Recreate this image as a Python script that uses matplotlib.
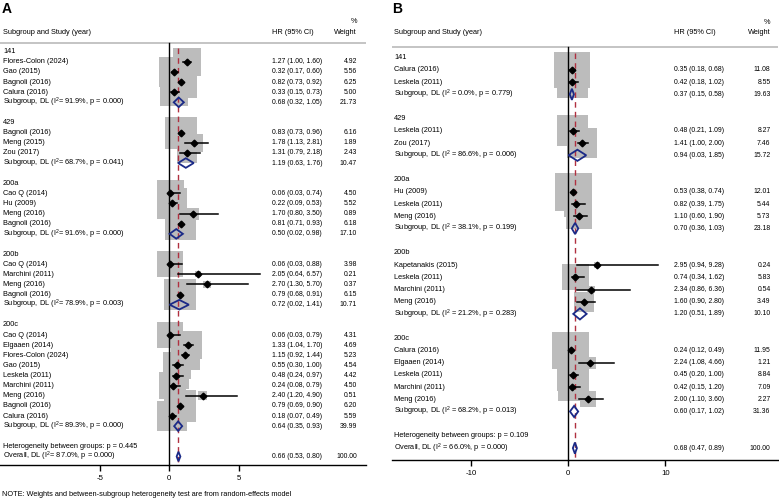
import numpy as np
import matplotlib
matplotlib.use("Agg")
import matplotlib.pyplot as plt
from matplotlib.patches import Rectangle, Polygon

plt.rcParams['font.family'] = ['Liberation Sans', 'DejaVu Sans']
plt.rcParams['mathtext.fontset'] = 'custom'
plt.rcParams['mathtext.rm'] = 'Liberation Sans'
plt.rcParams['mathtext.it'] = 'Liberation Sans:italic'
plt.rcParams['axes.unicode_minus'] = False

# ---------------- data: panel A ----------------
a_groups = ["141", "429", "200a", "200b", "200c"]
a_group = ["141"] * 4 + ["429"] * 3 + ["200a"] * 4 + ["200b"] * 4 + ["200c"] * 9
a_study = ["Flores-Colon (2024)", "Gao (2015)", "Bagnoli (2016)", "Calura (2016)",
           "Bagnoli (2016)", "Meng (2015)", "Zou (2017)",
           "Cao Q (2014)", "Hu (2009)", "Meng (2016)", "Bagnoli (2016)",
           "Cao Q (2014)", "Marchini (2011)", "Meng (2016)", "Bagnoli (2016)",
           "Cao Q (2014)", "Elgaaen (2014)", "Flores-Colon (2024)", "Gao (2015)",
           "Leskela (2011)", "Marchini (2011)", "Meng (2016)", "Bagnoli (2016)",
           "Calura (2016)"]
a_hr = [1.27, 0.32, 0.82, 0.33,
        0.83, 1.78, 1.31,
        0.06, 0.22, 1.70, 0.81,
        0.06, 2.05, 2.70, 0.79,
        0.06, 1.33, 1.15, 0.55, 0.48, 0.24, 2.40, 0.79, 0.18]
a_lo = [1.00, 0.17, 0.73, 0.15,
        0.73, 1.13, 0.79,
        0.03, 0.09, 0.80, 0.71,
        0.03, 0.64, 1.30, 0.68,
        0.03, 1.04, 0.92, 0.30, 0.24, 0.08, 1.20, 0.69, 0.07]
a_hi = [1.60, 0.60, 0.92, 0.73,
        0.96, 2.81, 2.18,
        0.74, 0.53, 3.50, 0.93,
        0.88, 6.57, 5.70, 0.91,
        0.79, 1.70, 1.44, 1.00, 0.97, 0.79, 4.90, 0.90, 0.49]
a_wt = [4.92, 5.56, 6.25, 5.00,
        6.16, 1.89, 2.43,
        4.50, 5.52, 0.89, 6.18,
        3.98, 0.21, 0.37, 6.15,
        4.31, 4.69, 5.23, 4.54, 4.42, 4.50, 0.51, 6.20, 5.59]
a_sub_i2 = [91.9, 68.7, 91.6, 78.9, 89.3]
a_sub_p = [0.000, 0.041, 0.000, 0.003, 0.000]
a_sub_hr = [0.68, 1.19, 0.50, 0.72, 0.64]
a_sub_lo = [0.32, 0.63, 0.02, 0.02, 0.35]
a_sub_hi = [1.05, 1.76, 0.98, 1.41, 0.93]
a_sub_wt = [21.73, 10.47, 17.10, 10.71, 39.99]
a_overall = [0.66, 0.53, 0.80]
a_overall_i2 = 87.0
a_overall_p = 0.000
a_het_p = 0.445
a_ticks = [-5, 0, 5]

# ---------------- data: panel B ----------------
b_groups = ["141", "429", "200a", "200b", "200c"]
b_group = ["141"] * 2 + ["429"] * 2 + ["200a"] * 3 + ["200b"] * 4 + ["200c"] * 5
b_study = ["Calura (2016)", "Leskela (2011)",
           "Leskela (2011)", "Zou (2017)",
           "Hu (2009)", "Leskela (2011)", "Meng (2016)",
           "Kapetanakis (2015)", "Leskela (2011)", "Marchini (2011)", "Meng (2016)",
           "Calura (2016)", "Elgaaen (2014)", "Leskela (2011)", "Marchini (2011)",
           "Meng (2016)"]
b_hr = [0.35, 0.42, 0.48, 1.41, 0.53, 0.82, 1.10,
        2.95, 0.74, 2.34, 1.60, 0.24, 2.24, 0.45, 0.42, 2.00]
b_lo = [0.18, 0.18, 0.21, 1.00, 0.38, 0.39, 0.60,
        0.94, 0.34, 0.86, 0.90, 0.12, 1.08, 0.20, 0.15, 1.10]
b_hi = [0.68, 1.02, 1.09, 2.00, 0.74, 1.75, 1.90,
        9.28, 1.62, 6.36, 2.80, 0.49, 4.66, 1.00, 1.20, 3.60]
b_wt = [11.08, 8.55, 8.27, 7.46, 12.01, 5.44, 5.73,
        0.24, 5.83, 0.54, 3.49, 11.95, 1.21, 8.84, 7.09, 2.27]
b_sub_i2 = [0.0, 86.6, 38.1, 21.2, 68.2]
b_sub_p = [0.779, 0.006, 0.199, 0.283, 0.013]
b_sub_hr = [0.37, 0.94, 0.70, 1.20, 0.60]
b_sub_lo = [0.15, 0.03, 0.36, 0.51, 0.17]
b_sub_hi = [0.58, 1.85, 1.03, 1.89, 1.02]
b_sub_wt = [19.63, 15.72, 23.18, 10.10, 31.36]
b_overall = [0.68, 0.47, 0.89]
b_overall_i2 = 66.0
b_overall_p = 0.000
b_het_p = 0.109
b_ticks = [-10, 0, 10]

W, H = 779, 499
BOX = '#bcbcbc'
NAVY = '#1b2a87'
RED = '#b03040'
FS = 5.3      # label text
FSN = 4.95    # number columns


def forest(ax, letter, groups, group, study, hr, lo, hi, wt,
           sub_i2, sub_p, sub_hr, sub_lo, sub_hi, sub_wt,
           overall, overall_i2, overall_p, het_p, ticks,
           lay, eq, note=None):
    pw = lay['width']
    zero, ppu = lay['zero'], lay['ppu']
    row0, rowpx = lay['row0'], lay['rowpx']
    ax.set_xlim((0 - zero) / ppu, (pw - zero) / ppu)
    ax.set_ylim((H - row0) / rowpx, (0 - row0) / rowpx)
    tr = ax.get_yaxis_transform()

    def fy(py):
        return 1 - py / H

    # header
    ax.text(lay['letter_x'] / pw, fy(9), letter, transform=ax.transAxes,
            fontsize=10, fontweight='bold', ha='left', va='center')
    ax.text(lay['lab_x'] / pw, fy(lay['head_y']), "Subgroup and Study (year)",
            transform=ax.transAxes, fontsize=FS, ha='left', va='center')
    ax.text(lay['ci_x'] / pw, fy(lay['head_y']), "HR (95% CI)",
            transform=ax.transAxes, fontsize=FS, ha='left', va='center')
    ax.text(lay['wt_x'] / pw, fy(lay['head_y']), "Weight",
            transform=ax.transAxes, fontsize=FS, ha='right', va='center')
    ax.text(lay['wt_x'] / pw, fy(lay['head_y'] - 11), "%",
            transform=ax.transAxes, fontsize=FS, ha='right', va='center')
    hl = (lay['hline_y'] - row0) / rowpx
    ax.plot([lay['hline_x0'] / pw, lay['hline_x1'] / pw], [hl, hl], transform=tr,
            color='#c4c4c4', lw=1.4, solid_capstyle='butt')

    k = lay['box']
    hh = lay['dia'] / rowpx
    r = 0
    for gi, g in enumerate(groups):
        ax.text(lay['lab_x'] / pw, r, g, transform=tr, fontsize=FS, ha='left', va='center')
        r += 1
        for i in [j for j in range(len(study)) if group[j] == g]:
            s = np.sqrt(wt[i])
            sx, sy = k * s / ppu, k * s / rowpx
            ax.add_patch(Rectangle((hr[i] - sx / 2, r - sy / 2), sx, sy,
                                   facecolor=BOX, edgecolor='none', zorder=1))
            ax.plot([lo[i], hi[i]], [r, r], color='k', lw=1.1, zorder=3)
            ax.plot(hr[i], r, marker='D', ms=3.4, color='k', zorder=4)
            ax.text(lay['lab_x'] / pw, r, study[i], transform=tr, fontsize=FS,
                    ha='left', va='center')
            ax.text(lay['ci_x'] / pw, r, f"{hr[i]:.2f} ({lo[i]:.2f}, {hi[i]:.2f})",
                    transform=tr, fontsize=FSN, ha='left', va='center')
            ax.text(lay['wt_x'] / pw, r, f"{wt[i]:.2f}", transform=tr, fontsize=FSN,
                    ha='right', va='center')
            r += 1
        ax.add_patch(Polygon([(sub_lo[gi], r), (sub_hr[gi], r - hh), (sub_hi[gi], r),
                              (sub_hr[gi], r + hh)], closed=True, fill=False,
                             edgecolor=NAVY, lw=1.3, zorder=5))
        ax.text(lay['lab_x'] / pw, r,
                f"Subgroup, DL (I$^{{2}}${eq}{sub_i2[gi]:.1f}%, p = {sub_p[gi]:.3f})",
                transform=tr, fontsize=FS, ha='left', va='center')
        ax.text(lay['ci_x'] / pw, r, f"{sub_hr[gi]:.2f} ({sub_lo[gi]:.2f}, {sub_hi[gi]:.2f})",
                transform=tr, fontsize=FSN, ha='left', va='center')
        ax.text(lay['wt_x'] / pw, r, f"{sub_wt[gi]:.2f}", transform=tr, fontsize=FSN,
                ha='right', va='center')
        r += 2

    ax.text(lay['lab_x'] / pw, r, f"Heterogeneity between groups: p = {het_p:.3f}",
            transform=tr, fontsize=FS, ha='left', va='center')
    r += 1
    ov, ovl, ovh = overall
    ax.add_patch(Polygon([(ovl, r), (ov, r - hh), (ovh, r), (ov, r + hh)], closed=True,
                         fill=False, edgecolor=NAVY, lw=1.3, zorder=5))
    ax.text(lay['lab_x'] / pw, r,
            f"Overall, DL (I$^{{2}}${eq}{overall_i2:.1f}%, p = {overall_p:.3f})",
            transform=tr, fontsize=FS, ha='left', va='center')
    ax.text(lay['ci_x'] / pw, r, f"{ov:.2f} ({ovl:.2f}, {ovh:.2f})",
            transform=tr, fontsize=FSN, ha='left', va='center')
    ax.text(lay['wt_x'] / pw, r, "100.00", transform=tr, fontsize=FSN,
            ha='right', va='center')

    axis_row = (lay['axis_y'] - row0) / rowpx
    ax.plot([0, 0], [hl, axis_row], color='k', lw=1.0, zorder=2)
    ax.plot([ov, ov], [-0.4, axis_row], color=RED, lw=1.0, ls=(0, (4, 3)), zorder=2)

    for sp in ['top', 'left', 'right']:
        ax.spines[sp].set_visible(False)
    ax.spines['bottom'].set_position(('data', axis_row))
    ax.spines['bottom'].set_bounds((lay['hline_x0'] - zero) / ppu,
                                   (lay['hline_x1'] - zero) / ppu)
    ax.spines['bottom'].set_linewidth(1.0)
    ax.set_yticks([])
    ax.set_xticks(ticks)
    ax.set_xticklabels([str(t) for t in ticks])
    ax.tick_params(axis='x', direction='out', length=4, width=1.0, pad=3.5,
                   labelsize=5.6)
    ax.patch.set_visible(False)

    if note:
        ax.text(2 / pw, fy(494), note, transform=ax.transAxes, fontsize=FS,
                ha='left', va='center')


fig = plt.figure(figsize=(W / 100, H / 100), dpi=100)
axA = fig.add_axes([0, 0, 390 / W, 1])
axB = fig.add_axes([390 / W, 0, 389 / W, 1])

lay_a = dict(width=390, zero=169.3, ppu=13.87, row0=51.7, rowpx=10.12,
             letter_x=2, lab_x=3, ci_x=272.5, wt_x=357, head_y=32.7,
             hline_y=43.3, hline_x0=0, hline_x1=366, axis_y=465, box=12.8, dia=4.8)
lay_b = dict(width=389, zero=178.3, ppu=9.7, row0=57.7, rowpx=12.2,
             letter_x=2, lab_x=4, ci_x=284, wt_x=380.5, head_y=33,
             hline_y=46.7, hline_x0=2, hline_x1=388, axis_y=460, box=10.8, dia=5.6)

forest(axA, "A", a_groups, a_group, a_study, a_hr, a_lo, a_hi, a_wt,
       a_sub_i2, a_sub_p, a_sub_hr, a_sub_lo, a_sub_hi, a_sub_wt,
       a_overall, a_overall_i2, a_overall_p, a_het_p, a_ticks, lay_a, "= ",
       note="NOTE: Weights and between-subgroup heterogeneity test are from random-effects model")
forest(axB, "B", b_groups, b_group, b_study, b_hr, b_lo, b_hi, b_wt,
       b_sub_i2, b_sub_p, b_sub_hr, b_sub_lo, b_sub_hi, b_sub_wt,
       b_overall, b_overall_i2, b_overall_p, b_het_p, b_ticks, lay_b, " = ")

fig.savefig("out.png", dpi=100)
